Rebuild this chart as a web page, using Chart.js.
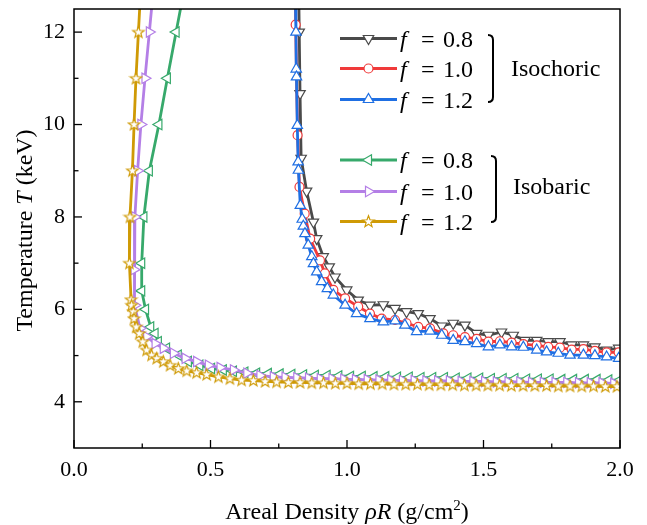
<!DOCTYPE html>
<html>
<head>
<meta charset="utf-8">
<script src="https://cdn.jsdelivr.net/npm/chart.js@4/dist/chart.umd.min.js"></script>
<style>
  html, body { margin: 0; padding: 0; background: #fff; }
  canvas { display: block; }
</style>
</head>
<body>
<canvas id="c" width="647" height="525"></canvas>
<script>
// ---- axis ticks ----
const xTickValues = [0, 0.5, 1.0, 1.5, 2.0];
const xTickLabels = ['0.0', '0.5', '1.0', '1.5', '2.0'];
const xMinorTicks = [0.25, 0.75, 1.25, 1.75];
const yTickValues = [4, 6, 8, 10, 12];
const yTickLabels = ['4', '6', '8', '10', '12'];
const yMinorTicks = [5, 7, 9, 11];

const fLabels = ['0.8', '1.0', '1.2'];
const groupLabels = ['Isochoric', 'Isobaric'];

// ---- isochoric ignition curves: areal density (g/cm^2) vs temperature (keV) ----
const isochoric08_rhoR = [0.823, 0.825, 0.828, 0.832, 0.852, 0.877, 0.889, 0.913, 0.935, 0.956, 0.999, 1.041, 1.084, 1.133, 1.176, 1.218, 1.261, 1.304, 1.347, 1.389, 1.432, 1.475, 1.518, 1.566, 1.609, 1.652, 1.695, 1.737, 1.780, 1.823, 1.866, 1.908, 1.951, 1.995];
const isochoric08_T    = [13.0, 12.0, 10.67, 9.27, 8.56, 7.89, 7.53, 7.14, 6.92, 6.70, 6.42, 6.20, 6.09, 6.10, 6.02, 5.95, 5.91, 5.80, 5.64, 5.70, 5.66, 5.48, 5.44, 5.51, 5.44, 5.33, 5.33, 5.30, 5.30, 5.23, 5.23, 5.19, 5.12, 5.16];

const isochoric10_rhoR = [0.811, 0.812, 0.819, 0.826, 0.845, 0.865, 0.901, 0.919, 0.950, 0.993, 1.041, 1.084, 1.127, 1.176, 1.218, 1.261, 1.304, 1.353, 1.389, 1.432, 1.475, 1.518, 1.560, 1.603, 1.646, 1.695, 1.737, 1.780, 1.823, 1.866, 1.908, 1.951, 1.995];
const isochoric10_T    = [13.0, 12.16, 9.77, 8.65, 8.07, 7.53, 7.06, 6.78, 6.42, 6.24, 6.06, 5.91, 5.80, 5.77, 5.70, 5.62, 5.59, 5.48, 5.44, 5.40, 5.36, 5.30, 5.31, 5.28, 5.25, 5.22, 5.19, 5.17, 5.13, 5.14, 5.10, 5.07, 5.07];

const isochoric12_rhoR = [0.810, 0.813, 0.814, 0.815, 0.818, 0.821, 0.822, 0.829, 0.836, 0.840, 0.846, 0.858, 0.871, 0.877, 0.889, 0.907, 0.928, 0.950, 0.993, 1.035, 1.084, 1.133, 1.176, 1.212, 1.255, 1.304, 1.347, 1.389, 1.432, 1.475, 1.518, 1.560, 1.603, 1.646, 1.695, 1.731, 1.774, 1.817, 1.866, 1.908, 1.951, 1.995];
const isochoric12_T    = [13.0, 12.0, 11.2, 11.03, 9.98, 9.19, 9.01, 8.25, 7.95, 7.80, 7.64, 7.39, 7.14, 6.99, 6.81, 6.60, 6.45, 6.31, 6.09, 5.91, 5.80, 5.73, 5.75, 5.66, 5.52, 5.53, 5.44, 5.33, 5.30, 5.26, 5.19, 5.23, 5.19, 5.18, 5.12, 5.08, 5.05, 5.01, 5.01, 5.00, 4.97, 4.94];

// ---- isobaric ignition curves ----
const isobaric08_rhoR = [0.406, 0.374, 0.342, 0.311, 0.276, 0.256, 0.248, 0.248, 0.262, 0.281, 0.297, 0.309, 0.339, 0.382, 0.419, 0.461, 0.504, 0.547, 0.584, 0.626, 0.669, 0.712, 0.755, 0.798, 0.841, 0.884, 0.927, 0.970, 1.013, 1.056, 1.099, 1.142, 1.185, 1.228, 1.271, 1.314, 1.357, 1.400, 1.443, 1.486, 1.529, 1.572, 1.615, 1.658, 1.701, 1.744, 1.787, 1.830, 1.873, 1.916, 1.959, 2.000];
const isobaric08_T    = [13.0, 12.0, 11.0, 10.0, 9.0, 8.0, 7.0, 6.40, 6.00, 5.62, 5.48, 5.30, 5.16, 5.01, 4.87, 4.79, 4.72, 4.69, 4.66, 4.64, 4.62, 4.61, 4.60, 4.59, 4.58, 4.57, 4.57, 4.56, 4.55, 4.55, 4.54, 4.54, 4.53, 4.53, 4.52, 4.52, 4.52, 4.51, 4.51, 4.51, 4.50, 4.50, 4.50, 4.49, 4.49, 4.49, 4.48, 4.48, 4.48, 4.48, 4.47, 4.47];

const isobaric10_rhoR = [0.292, 0.276, 0.260, 0.245, 0.233, 0.223, 0.220, 0.223, 0.242, 0.266, 0.297, 0.327, 0.364, 0.407, 0.449, 0.492, 0.535, 0.584, 0.633, 0.681, 0.730, 0.773, 0.816, 0.859, 0.902, 0.945, 0.988, 1.031, 1.074, 1.117, 1.160, 1.203, 1.246, 1.289, 1.332, 1.375, 1.418, 1.461, 1.504, 1.547, 1.590, 1.633, 1.676, 1.719, 1.762, 1.805, 1.848, 1.891, 1.934, 1.977];
const isobaric10_T    = [13.0, 12.0, 11.0, 10.0, 9.0, 8.0, 6.86, 6.09, 5.59, 5.41, 5.26, 5.16, 5.05, 4.94, 4.87, 4.79, 4.74, 4.69, 4.62, 4.57, 4.54, 4.53, 4.52, 4.51, 4.50, 4.50, 4.49, 4.48, 4.48, 4.47, 4.47, 4.46, 4.46, 4.45, 4.45, 4.45, 4.44, 4.44, 4.44, 4.43, 4.43, 4.43, 4.42, 4.42, 4.42, 4.42, 4.41, 4.41, 4.41, 4.40];

const isobaric12_rhoR = [0.245, 0.236, 0.227, 0.220, 0.214, 0.205, 0.203, 0.209, 0.211, 0.217, 0.220, 0.228, 0.239, 0.252, 0.266, 0.284, 0.303, 0.327, 0.352, 0.382, 0.413, 0.449, 0.486, 0.529, 0.571, 0.614, 0.657, 0.700, 0.742, 0.785, 0.828, 0.871, 0.914, 0.957, 1.000, 1.043, 1.086, 1.129, 1.172, 1.215, 1.258, 1.301, 1.344, 1.387, 1.430, 1.473, 1.516, 1.559, 1.602, 1.645, 1.688, 1.731, 1.774, 1.817, 1.860, 1.903, 1.946, 1.989];
const isobaric12_T    = [13.0, 12.0, 11.0, 10.0, 9.0, 8.0, 7.0, 6.21, 6.09, 5.95, 5.80, 5.62, 5.48, 5.30, 5.12, 5.01, 4.94, 4.87, 4.79, 4.72, 4.67, 4.63, 4.59, 4.54, 4.50, 4.47, 4.46, 4.44, 4.43, 4.42, 4.42, 4.41, 4.41, 4.40, 4.40, 4.39, 4.39, 4.39, 4.38, 4.38, 4.38, 4.37, 4.37, 4.37, 4.36, 4.36, 4.36, 4.36, 4.35, 4.35, 4.35, 4.35, 4.34, 4.34, 4.34, 4.34, 4.33, 4.33];

const FONT = '"Liberation Serif", "Times New Roman", Times, serif';

function zip(xs, ys) { return xs.map((v, i) => ({ x: v, y: ys[i] })); }

// hollow five-pointed star used as a point marker
function makeStar(color) {
  const c = document.createElement('canvas');
  c.width = 15; c.height = 15;
  const g = c.getContext('2d');
  g.beginPath();
  for (let i = 0; i < 10; i++) {
    const r = i % 2 ? 2.5 : 6.0;
    const a = -Math.PI / 2 + i * Math.PI / 5;
    g.lineTo(7.5 + r * Math.cos(a), 7.8 + r * Math.sin(a));
  }
  g.closePath();
  g.fillStyle = '#fff'; g.fill();
  g.lineWidth = 1.2; g.strokeStyle = color; g.stroke();
  return c;
}

const COLORS = {
  v08: '#4a4a4a', v10: '#f03a3a', v12: '#1f6fe3',
  p08: '#37a96b', p10: '#b47fe6', p12: '#cf9a05'
};
const starImg = makeStar(COLORS.p12);

function series(label, xs, ys, color, style, rotation, radius, order) {
  return {
    label, data: zip(xs, ys), order,
    borderColor: color, borderWidth: 2.8,
    pointStyle: style, rotation, pointRadius: radius,
    pointBorderColor: color, pointBackgroundColor: '#fff', pointBorderWidth: 1.2,
    pointHoverRadius: radius, tension: 0
  };
}

const datasets = [
  series('Isochoric f=0.8', isochoric08_rhoR, isochoric08_T, COLORS.v08, 'triangle', 180, 6, 3),
  series('Isochoric f=1.0', isochoric10_rhoR, isochoric10_T, COLORS.v10, 'circle', 0, 4.5, 2),
  series('Isochoric f=1.2', isochoric12_rhoR, isochoric12_T, COLORS.v12, 'triangle', 0, 6, 1),
  series('Isobaric f=0.8', isobaric08_rhoR, isobaric08_T, COLORS.p08, 'triangle', 270, 6, 3),
  series('Isobaric f=1.0', isobaric10_rhoR, isobaric10_T, COLORS.p10, 'triangle', 90, 6, 2),
  series('Isobaric f=1.2', isobaric12_rhoR, isobaric12_T, COLORS.p12, starImg, 0, 6, 1)
];

// draw a marker of the same style as a dataset, for the legend
function drawMarker(ctx, ds, x, y) {
  ctx.save();
  if (ds.pointStyle instanceof HTMLCanvasElement) {
    ctx.drawImage(ds.pointStyle, x - ds.pointStyle.width / 2, y - ds.pointStyle.height / 2);
  } else if (ds.pointStyle === 'circle') {
    ctx.beginPath(); ctx.arc(x, y, ds.pointRadius, 0, Math.PI * 2);
    ctx.fillStyle = '#fff'; ctx.fill();
    ctx.lineWidth = ds.pointBorderWidth; ctx.strokeStyle = ds.pointBorderColor; ctx.stroke();
  } else {
    let rad = ds.rotation * Math.PI / 180;
    const r = ds.pointRadius;
    ctx.beginPath();
    for (let k = 0; k < 3; k++) {
      ctx.lineTo(x + Math.sin(rad) * r, y - Math.cos(rad) * r);
      rad += 2 * Math.PI / 3;
    }
    ctx.closePath();
    ctx.fillStyle = '#fff'; ctx.fill();
    ctx.lineWidth = ds.pointBorderWidth; ctx.strokeStyle = ds.pointBorderColor; ctx.stroke();
  }
  ctx.restore();
}

// text made of runs with their own style: [text, 'n' | 'i' | 'sup']
function fontFor(s, size) {
  if (s === 'i') return 'italic ' + size + 'px ' + FONT;
  if (s === 'sup') return Math.round(size * 0.62) + 'px ' + FONT;
  return size + 'px ' + FONT;
}
function richWidth(ctx, runs, size) {
  let w = 0;
  runs.forEach(([t, s]) => {
    ctx.font = fontFor(s, size);
    w += ctx.measureText(t).width;
  });
  return w;
}
function drawRich(ctx, runs, x, y, size) {
  let cx = x;
  runs.forEach(([t, s]) => {
    ctx.font = fontFor(s, size);
    ctx.fillText(t, cx, s === 'sup' ? y - size * 0.38 : y);
    cx += ctx.measureText(t).width;
  });
}

const decorations = {
  id: 'decorations',
  afterDatasetsDraw(chart) {
    const { ctx, chartArea: a, scales: { x, y } } = chart;
    ctx.save();
    // frame
    ctx.strokeStyle = '#000';
    ctx.lineWidth = 1.5;
    ctx.strokeRect(a.left, a.top, a.right - a.left, a.bottom - a.top);
    // inward ticks
    ctx.lineWidth = 1.3;
    const seg = (x1, y1, x2, y2) => { ctx.beginPath(); ctx.moveTo(x1, y1); ctx.lineTo(x2, y2); ctx.stroke(); };
    xTickValues.forEach(v => { const p = x.getPixelForValue(v); seg(p, a.bottom, p, a.bottom - 8); });
    xMinorTicks.forEach(v => { const p = x.getPixelForValue(v); seg(p, a.bottom, p, a.bottom - 4.5); });
    yTickValues.forEach(v => { const p = y.getPixelForValue(v); seg(a.left, p, a.left + 8, p); });
    yMinorTicks.forEach(v => { const p = y.getPixelForValue(v); seg(a.left, p, a.left + 4.5, p); });

    // axis titles
    ctx.fillStyle = '#000';
    ctx.textBaseline = 'alphabetic';
    const xt = [['Areal Density ', 'n'], ['\u03C1R', 'i'], [' (g/cm', 'n'], ['2', 'sup'], [')', 'n']];
    const xw = richWidth(ctx, xt, 24);
    drawRich(ctx, xt, (a.left + a.right) / 2 - xw / 2, 519, 24);

    const yt = [['Temperature ', 'n'], ['T', 'i'], [' (keV)', 'n']];
    const yw = richWidth(ctx, yt, 24);
    ctx.save();
    ctx.translate(32, (a.top + a.bottom) / 2 + 2);
    ctx.rotate(-Math.PI / 2);
    drawRich(ctx, yt, -yw / 2, 0, 24);
    ctx.restore();

    // legend
    const rows = [38.5, 68.5, 99.5, 160, 191.5, 221.5];
    rows.forEach((ry, i) => {
      const ds = chart.data.datasets[i];
      ctx.strokeStyle = ds.borderColor;
      ctx.lineWidth = 3;
      seg(340, ry, 397, ry);
      drawMarker(ctx, ds, 368.5, ry);
      ctx.fillStyle = '#000';
      ctx.font = 'italic 24px ' + FONT;
      ctx.fillText('f', 400, ry + 8.3);
      ctx.font = '24px ' + FONT;
      ctx.fillText('=', 421, ry + 8.3);
      ctx.fillText(fLabels[i % 3], 443, ry + 8.3);
    });
    // brackets
    ctx.strokeStyle = '#000';
    ctx.lineWidth = 2;
    const bracket = (bx, top, bot) => {
      ctx.beginPath();
      ctx.moveTo(bx - 5, top);
      ctx.quadraticCurveTo(bx, top, bx, top + 5);
      ctx.lineTo(bx, bot - 5);
      ctx.quadraticCurveTo(bx, bot, bx - 5, bot);
      ctx.stroke();
    };
    bracket(493, 35, 102);
    bracket(496, 156, 222);
    ctx.fillStyle = '#000';
    ctx.font = '24px ' + FONT;
    ctx.fillText(groupLabels[0], 511, 75.5);
    ctx.fillText(groupLabels[1], 513, 193.5);
    ctx.restore();
  }
};

new Chart(document.getElementById('c'), {
  type: 'line',
  data: { datasets },
  plugins: [decorations],
  options: {
    responsive: false,
    animation: false,
    events: [],
    layout: { padding: { left: 0, right: 27, top: 9, bottom: 0 } },
    plugins: { legend: { display: false }, tooltip: { enabled: false } },
    scales: {
      x: {
        type: 'linear', min: 0, max: 2,
        grid: { display: false, drawTicks: false },
        border: { display: false },
        afterBuildTicks: s => { s.ticks = xTickValues.map(v => ({ value: v })); },
        afterFit: s => { s.height = 77; s.paddingLeft = 0; s.paddingRight = 0; },
        ticks: {
          padding: 9, color: '#000', font: { family: FONT, size: 22 },
          maxRotation: 0, autoSkip: false,
          callback: (v) => xTickLabels[xTickValues.indexOf(v)]
        }
      },
      y: {
        type: 'linear', min: 3, max: 12.5,
        grid: { display: false, drawTicks: false },
        border: { display: false },
        afterBuildTicks: s => { s.ticks = yTickValues.map(v => ({ value: v })); },
        afterFit: s => { s.width = 74; s.paddingTop = 0; s.paddingBottom = 0; },
        ticks: {
          padding: 9, color: '#000', font: { family: FONT, size: 22 },
          autoSkip: false,
          callback: (v) => yTickLabels[yTickValues.indexOf(v)]
        }
      }
    }
  }
});
</script>
</body>
</html>
